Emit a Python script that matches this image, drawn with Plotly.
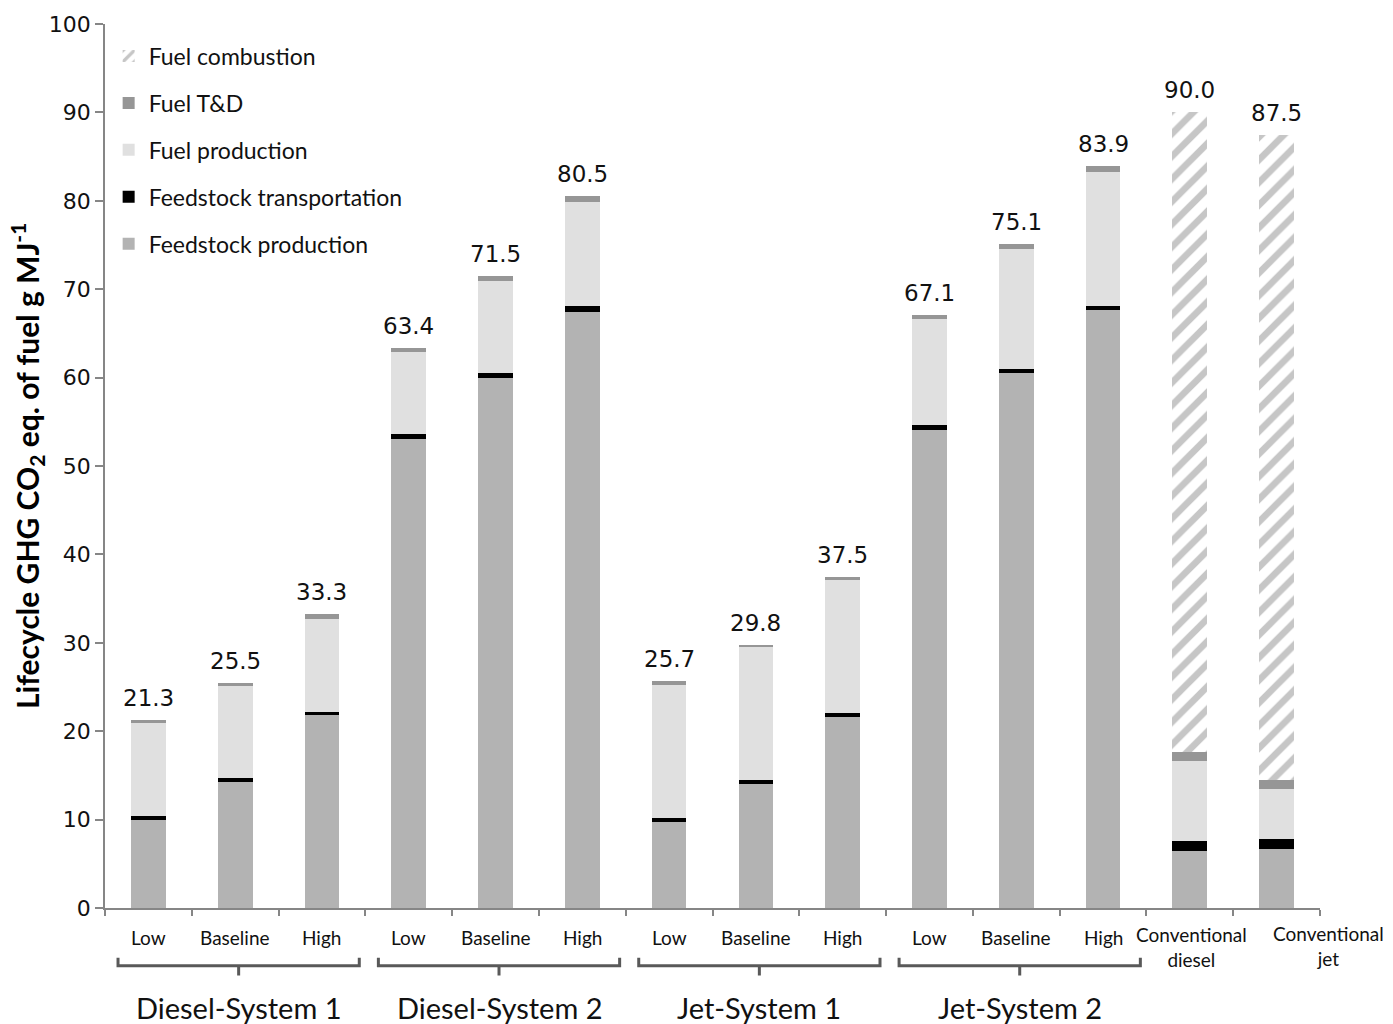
import plotly.graph_objects as go

# Scenario columns (14 bars) and their group headings
scenarios = ["Low", "Baseline", "High", "Low", "Baseline", "High",
             "Low", "Baseline", "High", "Low", "Baseline", "High",
             "Conventional<br>diesel", "Conventional<br>jet"]
groups = ["Diesel-System 1", "Diesel-System 2", "Jet-System 1", "Jet-System 2"]

# Lifecycle GHG contributions, g CO2 eq. per MJ of fuel
feedstock_production = [10.0, 14.2, 21.8, 53.1, 60.0, 67.4, 9.7, 14.0, 21.6, 54.1, 60.5, 67.6, 6.4, 6.7]
feedstock_transport = [0.4, 0.5, 0.4, 0.5, 0.5, 0.7, 0.5, 0.5, 0.5, 0.5, 0.5, 0.5, 1.2, 1.1]
fuel_production = [10.5, 10.4, 10.5, 9.3, 10.4, 11.8, 15.0, 15.0, 15.0, 12.0, 13.5, 15.2, 9.0, 5.7]
fuel_td = [0.4, 0.4, 0.6, 0.5, 0.6, 0.6, 0.5, 0.3, 0.4, 0.5, 0.6, 0.6, 1.0, 1.0]
fuel_combustion = [None] * 12 + [72.4, 73.0]
totals = [21.3, 25.5, 33.3, 63.4, 71.5, 80.5, 25.7, 29.8, 37.5, 67.1, 75.1, 83.9, 90.0, 87.5]

x = list(range(len(scenarios)))
calibri_like = "Lato"
verdana_like = "DejaVu Sans"
axis_grey = "#868686"

fig = go.Figure()
# stacked bottom to top; legend lists them top to bottom
series = [
    ("Feedstock production", feedstock_production, "#b3b3b3", None),
    ("Feedstock transportation", feedstock_transport, "#000000", None),
    ("Fuel production", fuel_production, "#e0e0e0", None),
    ("Fuel T&D", fuel_td, "#969696", None),
    ("Fuel combustion", fuel_combustion, "#ffffff",
     dict(shape="/", fgcolor="#8e8e8e", bgcolor="#ffffff", size=16, solidity=0.42)),
]
for i, (name, vals, color, pattern) in enumerate(series):
    marker = dict(color=color, line=dict(width=0))
    if pattern:
        marker["pattern"] = pattern
    fig.add_trace(go.Bar(x=x, y=vals, name=name, marker=marker, width=0.4,
                         legendgroup=name, legendrank=len(series) - i))

annotations = []
# total value labels above each stack
for xi, t in zip(x, totals):
    annotations.append(dict(x=xi, y=t, xref="x", yref="y", text=f"{t:.1f}",
                            showarrow=False, yanchor="bottom", yshift=7,
                            font=dict(family=verdana_like, size=23, color="#111")))

plot_w = 1393 - 105 - 73
plot_h = 1024 - 19 - 116
def px_x(px):
    return (px - 105) / plot_w
def py(px):
    return -px / plot_h

# scenario labels under the axis
for xi, s in zip(x, scenarios):
    if xi < 12:
        annotations.append(dict(x=xi, y=0, xref="x", yref="paper", text=s,
                                showarrow=False, yanchor="middle", yshift=-29,
                                font=dict(family=calibri_like, size=19, color="#111")))
annotations.append(dict(x=12.02, y=0, xref="x", yref="paper", text=scenarios[12],
                        showarrow=False, xanchor="center", yanchor="top", yshift=-13,
                        font=dict(family=calibri_like, size=19, color="#111")))
annotations.append(dict(x=px_x(1328), y=0, xref="paper", yref="paper", text=scenarios[13],
                        showarrow=False, xanchor="center", yanchor="top", yshift=-12,
                        font=dict(family=calibri_like, size=19, color="#111")))

# group brackets and headings
shapes = []
for g, label in enumerate(groups):
    x0 = g * 3 - 0.35
    x1 = g * 3 + 2.43
    xm = (x0 + x1) / 2
    path = (f"M {x0},{py(50)} L {x0},{py(58)} L {x1},{py(58)} L {x1},{py(50)} "
            f"M {xm},{py(58)} L {xm},{py(68)}")
    shapes.append(dict(type="path", path=path, xref="x", yref="paper",
                       line=dict(color="#595959", width=3)))
    annotations.append(dict(x=xm, y=py(100), xref="x", yref="paper", text=label,
                            showarrow=False, yanchor="middle",
                            font=dict(family=calibri_like, size=29, color="#111")))

# y-axis title
annotations.append(dict(x=px_x(27), y=0.5, xref="paper", yref="paper",
                        text="<b>Lifecycle GHG CO<sub>2</sub> eq. of fuel g MJ<sup>-1</sup></b>",
                        textangle=-90, showarrow=False, xanchor="center", yanchor="middle",
                        font=dict(family=calibri_like, size=30, color="#000")))

fig.update_layout(
    barmode="stack",
    width=1393, height=1024,
    margin=dict(l=105, r=73, t=19, b=116),
    plot_bgcolor="white", paper_bgcolor="white",
    showlegend=True,
    legend=dict(x=0.003, y=0.988, xanchor="left", yanchor="top",
                traceorder="grouped", tracegroupgap=14,
                font=dict(family=calibri_like, size=23, color="#111"),
                bgcolor="rgba(0,0,0,0)", itemwidth=30),
    xaxis=dict(range=[-0.5, 13.5], showgrid=False, zeroline=False,
               showline=True, linecolor=axis_grey, linewidth=1.5,
               tickmode="array", tickvals=[i + 0.5 for i in range(-1, 14)],
               ticktext=[""] * 15, ticks="outside", ticklen=6,
               tickcolor=axis_grey, tickwidth=1.5),
    yaxis=dict(range=[0, 100], dtick=10, showgrid=False, zeroline=False,
               showline=True, linecolor=axis_grey, linewidth=1.5,
               ticks="outside", ticklen=8, tickcolor=axis_grey, tickwidth=1.5,
               tickfont=dict(family=verdana_like, size=22, color="#111")),
    annotations=annotations,
    shapes=shapes,
)

fig.write_html("out.html")
